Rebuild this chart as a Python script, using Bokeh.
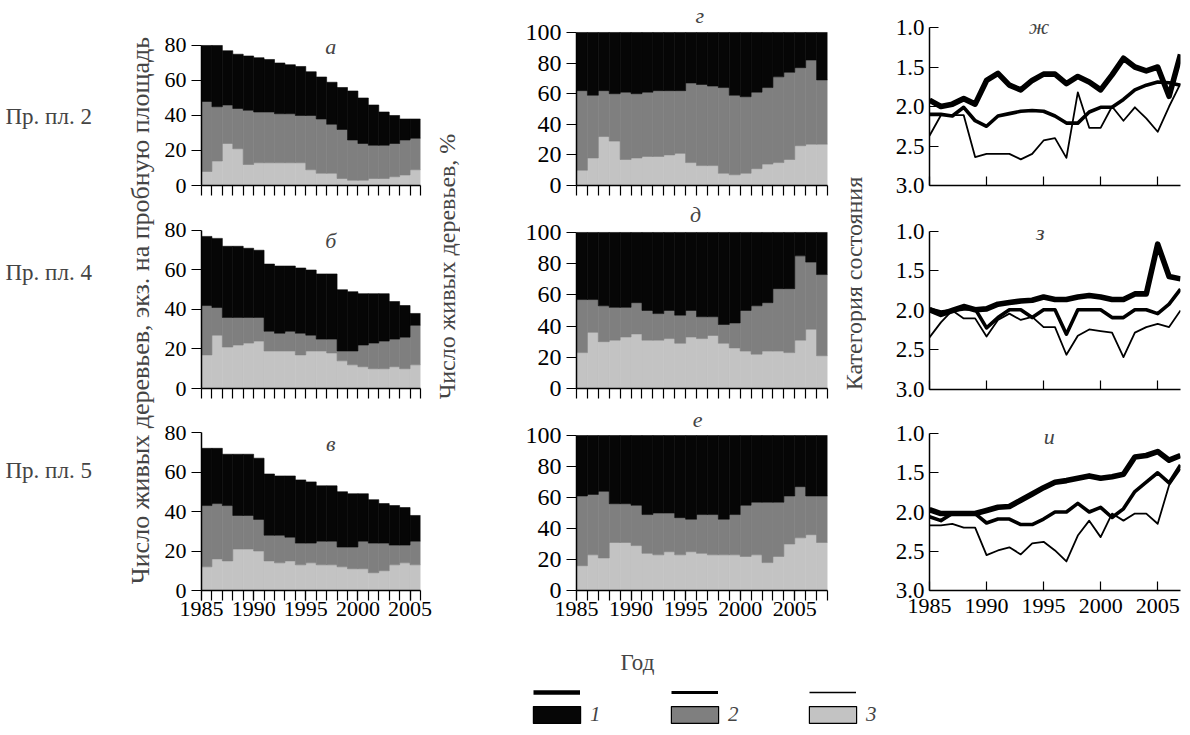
from math import pi
from bokeh.plotting import figure
from bokeh.layouts import row, column
from bokeh.models import (Range1d, FixedTicker, Label, Legend, LegendItem,
                          NumeralTickFormatter, ColumnDataSource)
from bokeh.embed import file_html
from bokeh.resources import INLINE

FONT = "Liberation Serif"
BLACK, GRAY, LIGHT = "#060606", "#7f7f7f", "#c3c3c3"

# ---------------- data ----------------
years_abs = list(range(1985, 2006))   # visible part of the absolute panels
years_pct = list(range(1985, 2008))
years_cat = list(range(1985, 2008))

# Пр. пл. 2 (а) – number of trees, categories 3 / 2 / 1
a_c3 = [8, 14, 24, 21, 12, 13, 13, 13, 13, 13, 9, 7, 7, 4, 3, 3, 4, 4, 5, 6, 9]
a_c2 = [40, 31, 22, 23, 31, 29, 29, 28, 28, 27, 31, 31, 28, 28, 23, 21, 19, 19, 19, 20, 18]
a_c1 = [32, 35, 31, 31, 31, 31, 30, 29, 28, 28, 25, 24, 24, 24, 28, 26, 23, 19, 16, 12, 11]
# Пр. пл. 4 (б)
b_c3 = [17, 27, 21, 22, 23, 24, 19, 19, 19, 17, 19, 19, 18, 14, 12, 11, 10, 10, 11, 10, 12]
b_c2 = [25, 14, 15, 14, 13, 12, 10, 9, 10, 11, 8, 6, 7, 5, 7, 11, 13, 14, 14, 16, 20]
b_c1 = [35, 35, 36, 36, 35, 34, 34, 34, 33, 33, 33, 33, 33, 31, 30, 26, 25, 24, 19, 16, 6]
# Пр. пл. 5 (в)
c_c3 = [12, 16, 15, 21, 21, 20, 15, 14, 15, 13, 14, 13, 13, 12, 11, 11, 9, 10, 13, 14, 13]
c_c2 = [31, 28, 28, 17, 17, 16, 13, 14, 12, 11, 10, 12, 12, 10, 11, 14, 15, 14, 10, 9, 12]
c_c1 = [29, 28, 26, 31, 31, 31, 31, 30, 31, 32, 31, 28, 28, 28, 27, 24, 22, 20, 20, 19, 13]

# percentages (г, д, е)
g_c3 = [10, 18, 32, 29, 17, 18, 19, 19, 20, 21, 15, 13, 13, 8, 7, 8, 11, 14, 15, 17, 26, 27, 27]
g_c2 = [52, 41, 30, 31, 44, 42, 42, 43, 42, 41, 52, 53, 52, 56, 52, 50, 50, 50, 56, 57, 51, 55, 42]
g_c1 = [38, 41, 38, 40, 39, 40, 39, 38, 38, 38, 33, 34, 35, 36, 41, 42, 39, 36, 29, 26, 23, 18, 31]
d_c3 = [23, 36, 30, 31, 33, 35, 31, 31, 32, 29, 33, 32, 34, 29, 26, 24, 22, 24, 24, 23, 31, 38, 21]
d_c2 = [34, 21, 23, 21, 19, 20, 19, 17, 18, 18, 17, 14, 12, 12, 16, 26, 31, 31, 40, 41, 54, 43, 52]
d_c1 = [43, 43, 47, 48, 48, 45, 50, 52, 50, 53, 50, 54, 54, 59, 58, 50, 47, 45, 36, 36, 15, 19, 27]
e_c3 = [16, 23, 21, 31, 31, 29, 24, 23, 25, 23, 25, 24, 23, 23, 23, 22, 23, 18, 22, 30, 34, 36, 31]
e_c2 = [45, 39, 43, 25, 25, 26, 25, 27, 25, 24, 21, 25, 26, 23, 26, 33, 34, 39, 35, 31, 33, 25, 30]
e_c1 = [39, 38, 36, 44, 44, 45, 51, 50, 50, 53, 54, 51, 51, 54, 51, 45, 43, 43, 43, 39, 33, 39, 39]

# mean condition category (ж, з, и), lines 1 / 2 / 3
zh1 = [1.92, 2.0, 1.97, 1.9, 1.97, 1.67, 1.58, 1.73, 1.79, 1.67, 1.59, 1.59, 1.71, 1.62, 1.69, 1.79, 1.6, 1.39, 1.5, 1.55, 1.5, 1.87, 1.34]
zh2 = [2.1, 2.1, 2.12, 2.01, 2.18, 2.25, 2.12, 2.09, 2.06, 2.05, 2.06, 2.12, 2.21, 2.21, 2.07, 2.01, 2.01, 1.91, 1.79, 1.73, 1.69, 1.7, 1.73]
zh3 = [2.37, 2.11, 2.11, 2.11, 2.64, 2.6, 2.6, 2.6, 2.67, 2.6, 2.43, 2.4, 2.65, 1.82, 2.27, 2.27, 2.0, 2.18, 2.01, 2.15, 2.32, 2.0, 1.71]
z1 = [1.99, 2.05, 2.0, 1.95, 1.99, 1.98, 1.92, 1.9, 1.88, 1.87, 1.83, 1.86, 1.86, 1.83, 1.81, 1.83, 1.86, 1.86, 1.79, 1.79, 1.16, 1.57, 1.6]
z2 = [1.98, 2.02, 2.0, 1.98, 1.98, 2.22, 2.09, 1.99, 1.99, 2.09, 1.99, 1.99, 2.3, 1.99, 1.99, 1.99, 2.09, 2.09, 1.99, 1.99, 2.04, 1.92, 1.73]
z3 = [2.34, 2.15, 2.0, 2.1, 2.1, 2.33, 2.12, 2.04, 2.12, 2.08, 2.21, 2.21, 2.56, 2.32, 2.24, 2.26, 2.28, 2.59, 2.28, 2.21, 2.17, 2.21, 2.0]
i1 = [1.97, 2.02, 2.02, 2.02, 2.02, 1.98, 1.94, 1.93, 1.85, 1.77, 1.69, 1.62, 1.6, 1.57, 1.54, 1.57, 1.55, 1.52, 1.3, 1.28, 1.23, 1.34, 1.28]
i2 = [2.06, 2.11, 2.02, 2.02, 2.02, 2.14, 2.09, 2.09, 2.16, 2.16, 2.09, 2.0, 2.0, 1.89, 2.0, 1.94, 2.07, 1.96, 1.74, 1.62, 1.5, 1.63, 1.4]
i3 = [2.17, 2.17, 2.15, 2.2, 2.2, 2.55, 2.49, 2.45, 2.54, 2.4, 2.38, 2.49, 2.63, 2.3, 2.11, 2.32, 2.02, 2.11, 2.02, 2.02, 2.15, 1.66, 1.45]

abs_ticks = [0, 20, 40, 60, 80]
pct_ticks = [0, 20, 40, 60, 80, 100]
cat_ticks = [1.0, 1.5, 2.0, 2.5, 3.0]
year_labels = [1985, 1990, 1995, 2000, 2005]
row_labels = ["Пр. пл. 2", "Пр. пл. 4", "Пр. пл. 5"]
legend_labels = ["1", "2", "3"]

NAN = float("nan")


def style_axes(p, fs):
    for ax in p.axis:
        ax.axis_line_color = "black"
        ax.axis_line_width = 1.5
        ax.major_tick_line_color = "black"
        ax.major_tick_line_width = 1.2
        ax.minor_tick_line_color = "black"
        ax.minor_tick_line_width = 1.2
        ax.minor_tick_in = 0
        ax.minor_tick_out = 0
        ax.major_label_text_font = FONT
        ax.major_label_text_font_size = fs
        ax.major_label_text_color = "black"
    p.grid.visible = False
    p.outline_line_color = None


def letter(p, text, x, y):
    p.add_layout(Label(x=x, y=y, text=text, text_font=FONT, text_font_style="italic",
                       text_font_size="22px", text_align="center", text_baseline="middle"))


def stack_panel(years, s3, s2, s1, x_end, y_top, y_end, y_ticks, w, h, mb, labels, yfs):
    p = figure(width=w, height=h, x_range=Range1d(1985, x_end), y_range=Range1d(0, y_end),
               title=None, output_backend="svg", toolbar_location=None,
               min_border_left=mb[0], min_border_right=mb[1],
               min_border_top=mb[2], min_border_bottom=mb[3])
    src = ColumnDataSource(dict(x=[y + 0.5 for y in years], c3=s3, c2=s2, c1=s1))
    p.vbar_stack(["c3", "c2", "c1"], x="x", width=1.0, source=src,
                 fill_color=[LIGHT, GRAY, BLACK], line_color=[LIGHT, GRAY, BLACK],
                 line_width=0.6)
    style_axes(p, yfs)
    every_year = list(range(1985, x_end + 1))
    if labels:
        p.xaxis.ticker = FixedTicker(ticks=year_labels, minor_ticks=every_year)
        p.xaxis.major_label_text_font_size = "22px"
        p.xaxis.major_label_standoff = 1
    else:
        p.xaxis.ticker = FixedTicker(ticks=[], minor_ticks=every_year)
    p.xaxis.major_tick_out = 10
    p.xaxis.major_tick_in = 0
    p.xaxis.minor_tick_out = 10
    p.yaxis.ticker = FixedTicker(ticks=y_ticks)
    p.yaxis.bounds = (0, y_top)
    p.yaxis.major_tick_out = 10
    p.yaxis.major_tick_in = 0
    p.yaxis.major_label_standoff = 5
    return p


def cat_panel(v1, v2, v3, h, y_end, mb_bottom, labels):
    p = figure(width=316, height=h, x_range=Range1d(1985, 2007), y_range=Range1d(3.0, y_end),
               title=None, output_backend="svg", toolbar_location=None,
               min_border_left=63, min_border_right=2,
               min_border_top=0, min_border_bottom=mb_bottom)
    p.line(years_cat, v3, line_width=1.8, line_color="black", line_join="round")
    p.line(years_cat, v2, line_width=3.6, line_color="black", line_join="round")
    p.line(years_cat, v1, line_width=5.6, line_color="black", line_join="round")
    style_axes(p, "23px")
    if labels:
        p.xaxis.ticker = FixedTicker(ticks=year_labels)
        p.xaxis.major_label_text_font_size = "22px"
        p.xaxis.major_label_standoff = 8
    else:
        p.xaxis.ticker = FixedTicker(ticks=[], minor_ticks=year_labels)
    p.xaxis.major_tick_in = 9
    p.xaxis.major_tick_out = 0
    p.xaxis.minor_tick_in = 9
    p.xaxis.minor_tick_out = 0
    p.yaxis.ticker = FixedTicker(ticks=cat_ticks)
    p.yaxis.bounds = (1.0, 3.0)
    p.yaxis.formatter = NumeralTickFormatter(format="0.0")
    p.yaxis.major_tick_in = 9
    p.yaxis.major_tick_out = 0
    p.yaxis.major_label_standoff = 5
    return p


# row heights: 0-197, 197-402, 402-628
H1, H2, H3 = 197, 205, 226

# ---- left column (absolute numbers) ----
LW = 272
pa = stack_panel(years_abs, a_c3, a_c2, a_c1, 2006, 80, 105.7, abs_ticks, LW, H1, (41, 12, 0, 12), False, "22px")
pb = stack_panel(years_abs, b_c3, b_c2, b_c1, 2006, 80, 96.7, abs_ticks, LW, H2, (41, 12, 0, 14), False, "22px")
pc = stack_panel(years_abs, c_c3, c_c2, c_c1, 2006, 80, 95.2, abs_ticks, LW, H3, (41, 12, 0, 38), True, "22px")
letter(pa, "а", 1997.4, 79.4)
letter(pb, "б", 1997.4, 74.9)
letter(pc, "в", 1997.4, 74.4)

# ---- middle column (percentages) ----
MW = 380
pg = stack_panel(years_pct, g_c3, g_c2, g_c1, 2008, 100, 120.9, pct_ticks, MW, H1, (116, 13, 0, 12), False, "24px")
pd = stack_panel(years_pct, d_c3, d_c2, d_c1, 2008, 100, 122.4, pct_ticks, MW, H2, (116, 13, 0, 14), False, "24px")
pe = stack_panel(years_pct, e_c3, e_c2, e_c1, 2008, 100, 121.3, pct_ticks, MW, H3, (116, 13, 0, 38), True, "24px")
letter(pg, "г", 1996.3, 111.1)
letter(pd, "д", 1995.9, 111.5)
letter(pe, "е", 1996.1, 110.3)

# ---- right column (condition category) ----
pzh = cat_panel(zh1, zh2, zh3, H1, 0.658, 12, False)
pz = cat_panel(z1, z2, z3, H2, 0.570, 13, False)
pi_ = cat_panel(i1, i2, i3, H3, 0.605, 38, True)
letter(pzh, "ж", 1994.6, 0.99)
letter(pz, "з", 1994.7, 1.01)
letter(pi_, "и", 1995.5, 1.04)


def strip(w, h):
    p = figure(width=w, height=h, x_range=Range1d(0, w), y_range=Range1d(0, h),
               x_axis_type=None, y_axis_type=None, title=None,
               output_backend="svg", toolbar_location=None, min_border=0)
    p.grid.visible = False
    p.outline_line_color = None
    return p


SH = H1 + H2 + H3
sL = strip(160, SH)
for txt, yy in zip(row_labels, [512, 356, 158]):
    sL.add_layout(Label(x=5, y=yy, text=txt, text_font=FONT, text_font_size="23px",
                        text_align="left", text_baseline="middle"))
sL.add_layout(Label(x=140, y=318, text="Число живых деревьев, экз. на пробную площадь",
                    angle=pi / 2, text_font=FONT, text_font_size="26px",
                    text_align="center", text_baseline="middle"))
sM = strip(28, SH)
sM.add_layout(Label(x=14, y=362, text="Число живых деревьев, %", angle=pi / 2,
                    text_font=FONT, text_font_size="24px",
                    text_align="center", text_baseline="middle"))
sR = strip(26, SH)
sR.add_layout(Label(x=13, y=345, text="Категория состояния", angle=pi / 2,
                    text_font=FONT, text_font_size="24px",
                    text_align="center", text_baseline="middle"))

# ---- legend strip ----
LH = 99
lg = strip(1182, LH)
lg.add_layout(Label(x=637, y=65, text="Год", text_font=FONT, text_font_size="23px",
                    text_align="center", text_baseline="middle"))
line_widths = [4.5, 3.2, 1.6]
fills = [BLACK, GRAY, LIGHT]
line_rs = [lg.line(x=[NAN], y=[NAN], line_color="black", line_width=lw) for lw in line_widths]
rect_rs = [lg.rect(x=[NAN], y=[NAN], width=1, height=1, fill_color=fc, line_color="black",
                   line_width=1.2) for fc in fills]
common = dict(orientation="horizontal", spacing=0, padding=0, margin=0,
              border_line_alpha=0, background_fill_alpha=0,
              label_text_font=FONT, label_text_font_style="italic", label_text_font_size="21px")
leg_lines = Legend(items=[LegendItem(label=" ", renderers=[r]) for r in line_rs],
                   location=(533, 30), glyph_width=47, glyph_height=10, label_height=10,
                   label_width=87, label_standoff=4, **common)
leg_rects = Legend(items=[LegendItem(label=t, renderers=[r]) for t, r in zip(legend_labels, rect_rs)],
                   location=(527, 0), glyph_width=59, glyph_height=21, label_height=21,
                   label_width=75, label_standoff=4, **common)
lg.add_layout(leg_lines)
lg.add_layout(leg_rects)

top = row(sL, column(pa, pb, pc), sM, column(pg, pd, pe), sR, column(pzh, pz, pi_))
layout = column(top, lg)

open("out.html", "w").write(file_html(layout, INLINE))
